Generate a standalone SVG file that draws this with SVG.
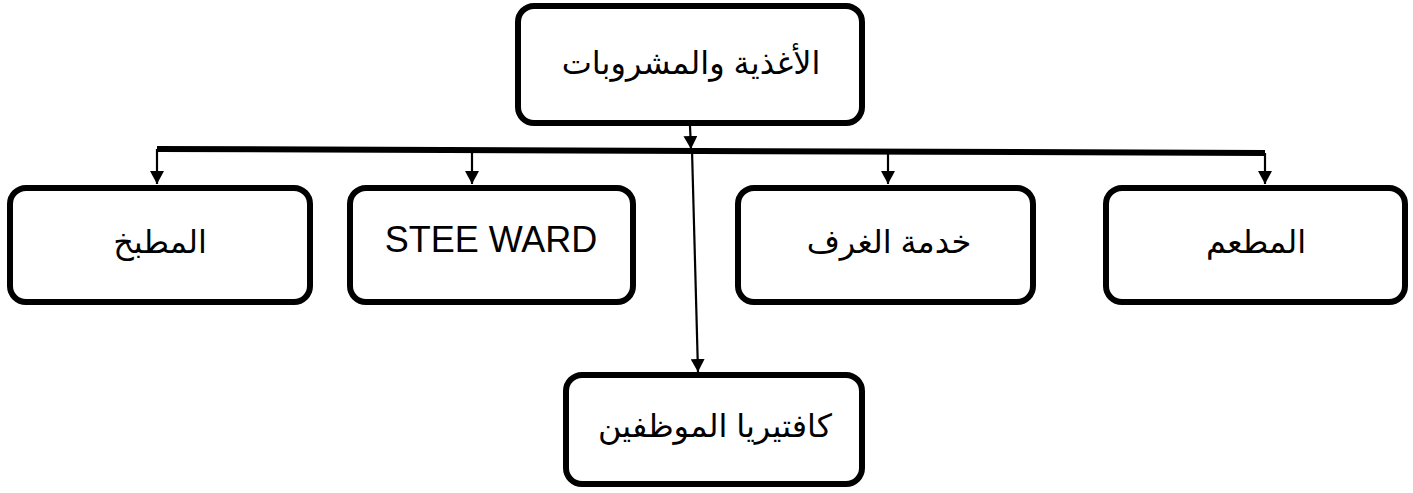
<svg xmlns="http://www.w3.org/2000/svg" width="1413" height="493" viewBox="0 0 1413 493">
  <style>
    .box { fill: #ffffff; stroke: #000000; stroke-width: 6; }
    .label { font-family: "Liberation Sans", "DejaVu Sans", sans-serif; font-size: 32px; fill: #000000; text-anchor: middle; }
    .latin { font-size: 36px; }
    .bar { fill: none; stroke: #000000; stroke-width: 6; stroke-linejoin: round; }
    .drop { fill: none; stroke: #000000; stroke-width: 2.2; }
  </style>
  <defs>
    <marker id="head" viewBox="0 0 13 14" refX="13" refY="7" markerWidth="13" markerHeight="14" markerUnits="userSpaceOnUse" orient="auto">
      <path d="M0,0 L13,7 L0,14 Z" fill="#000000"/>
    </marker>
  </defs>

  <!-- connectors -->
  <g id="connectors">
    <!-- main distribution bar -->
    <path class="bar" d="M157,149 L1265,153"/>
    <!-- from the top node down onto the bar -->
    <path class="drop" d="M690,126 L691,149" marker-end="url(#head)"/>
    <!-- drops to the second row -->
    <path class="drop" d="M157,149 L157,184" marker-end="url(#head)"/>
    <path class="drop" d="M472,150 L472,184" marker-end="url(#head)"/>
    <path class="drop" d="M888,151 L888,184" marker-end="url(#head)"/>
    <path class="drop" d="M1265,153 L1265,184" marker-end="url(#head)"/>
    <!-- long drop to the staff cafeteria -->
    <path class="drop" d="M692,150 L698,372" marker-end="url(#head)"/>
  </g>

  <g id="node-food-beverage">
    <rect class="box" x="518" y="6" width="344" height="117" rx="16"/>
    <text class="label" x="691" y="74">الأغذية والمشروبات</text>
  </g>

  <g id="node-kitchen">
    <rect class="box" x="10" y="188" width="300" height="114" rx="16"/>
    <text class="label" x="160" y="253">المطبخ</text>
  </g>

  <g id="node-steward">
    <rect class="box" x="350" y="188" width="283" height="114" rx="16"/>
    <text class="label latin" x="491" y="252">STEE WARD</text>
  </g>

  <g id="node-room-service">
    <rect class="box" x="738" y="188" width="295" height="114" rx="16"/>
    <text class="label" x="889" y="253">خدمة الغرف</text>
  </g>

  <g id="node-restaurant">
    <rect class="box" x="1106" y="188" width="299" height="114" rx="16"/>
    <text class="label" x="1256" y="253">المطعم</text>
  </g>

  <g id="node-staff-cafeteria">
    <rect class="box" x="566" y="375" width="296" height="109" rx="16"/>
    <text class="label" x="715" y="437">كافتيريا الموظفين</text>
  </g>
</svg>
